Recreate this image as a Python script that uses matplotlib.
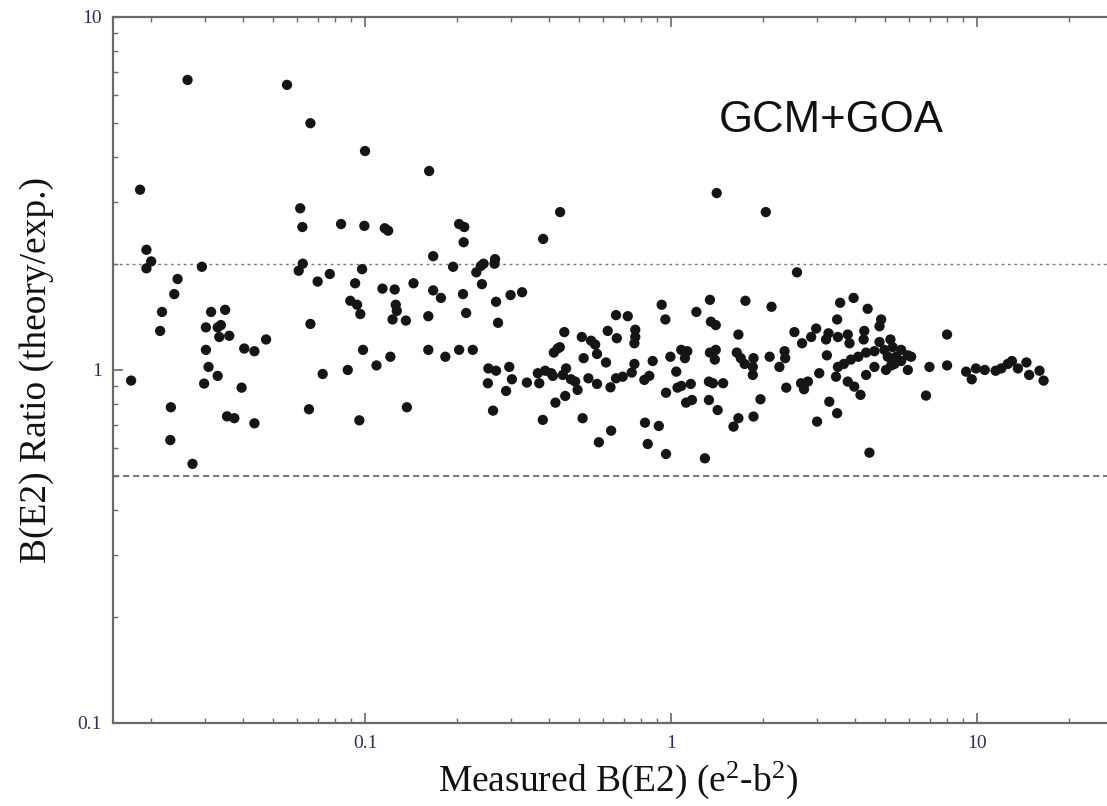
"""Log-log scatter: ratio of calculated to measured B(E2) vs measured B(E2)."""
import matplotlib
matplotlib.use('Agg')
import matplotlib.pyplot as plt
from matplotlib.ticker import FixedLocator, FuncFormatter, LogLocator, NullFormatter

# measured B(E2) (e^2 b^2)
b_e2 = [
    0.0263, 0.0556, 0.0663, 0.100, 0.0184, 0.0614, 0.0624, 0.0835, 0.0995, 0.0193,
    0.0200, 0.0193, 0.0293, 0.0607, 0.0626, 0.0700, 0.0767, 0.0978, 0.0244, 0.0238,
    0.0928, 0.0895, 0.0942, 0.0965, 0.0217, 0.0214, 0.0314, 0.0349, 0.0302, 0.0330,
    0.0338, 0.0334, 0.0360, 0.0302, 0.0403, 0.0435, 0.0475, 0.0663, 0.0985, 0.0172,
    0.0308, 0.0330, 0.0298, 0.0395, 0.0727, 0.0878, 0.0232, 0.0354, 0.0374, 0.0435,
    0.0656, 0.0958, 0.0231, 0.0273, 0.162, 0.203, 0.211, 0.210, 0.116, 0.119,
    0.382, 0.434, 1.41, 2.04, 0.167, 0.194, 0.231, 0.239, 0.244, 0.266,
    0.265, 0.114, 0.125, 0.144, 0.167, 0.177, 0.209, 0.241, 0.268, 0.299,
    0.326, 0.126, 0.127, 0.123, 0.136, 0.161, 0.214, 0.272, 0.109, 0.121,
    0.161, 0.183, 0.203, 0.225, 0.137, 0.253, 0.268, 0.296, 0.252, 0.302,
    0.289, 0.262, 0.338, 0.367, 0.371, 0.388, 0.406, 0.411, 0.448, 0.414,
    0.426, 0.433, 0.454, 0.443, 0.471, 0.486, 0.495, 0.451, 0.419, 0.381,
    0.514, 0.511, 0.548, 0.565, 0.518, 0.573, 0.613, 0.537, 0.573, 0.634,
    0.661, 0.621, 0.661, 0.665, 0.637, 0.581, 2.58, 0.722, 0.932, 0.958,
    1.34, 1.21, 1.35, 1.40, 1.75, 2.13, 0.764, 0.764, 0.759, 0.759,
    0.871, 0.744, 0.695, 0.818, 0.849, 0.995, 1.08, 1.13, 1.11, 1.04,
    0.963, 1.05, 1.08, 1.16, 1.12, 1.17, 1.33, 1.37, 1.48, 1.33,
    1.42, 1.34, 1.40, 1.39, 1.66, 1.64, 1.69, 1.74, 1.86, 1.85,
    1.85, 2.10, 2.26, 2.35, 2.36, 1.96, 1.86, 1.66, 1.60, 0.822,
    0.912, 0.839, 0.963, 1.29, 2.38, 2.66, 2.80, 2.72, 2.53, 2.68,
    2.98, 2.87, 3.27, 3.21, 3.51, 3.83, 3.78, 4.28, 4.26, 3.23,
    3.05, 3.51, 3.46, 3.67, 3.87, 4.09, 4.34, 3.78, 3.97, 4.16,
    4.34, 3.29, 3.49, 3.00, 3.57, 3.95, 4.39, 3.49, 4.45, 4.86,
    4.80, 4.80, 5.21, 5.30, 5.65, 5.94, 6.09, 5.44, 5.11, 4.98,
    4.62, 4.62, 5.04, 5.24, 5.65, 5.94, 5.37, 6.99, 7.98, 7.98,
    6.81, 9.21, 9.61, 9.92, 10.6, 11.5, 12.0, 12.6, 13.0, 13.6,
    14.5, 14.8, 16.0, 16.5,
]

# theory / experiment
ratio = [
    6.63, 6.42, 5.00, 4.17, 3.24, 2.87, 2.54, 2.59, 2.56, 2.19,
    2.03, 1.94, 1.96, 1.91, 2.00, 1.78, 1.87, 1.93, 1.81, 1.64,
    1.76, 1.57, 1.53, 1.44, 1.46, 1.29, 1.46, 1.48, 1.32, 1.32,
    1.34, 1.24, 1.25, 1.14, 1.15, 1.13, 1.22, 1.35, 1.14, 0.933,
    1.02, 0.962, 0.915, 0.891, 0.974, 1.00, 0.784, 0.739, 0.730, 0.706,
    0.774, 0.720, 0.633, 0.542, 3.66, 2.59, 2.54, 2.30, 2.52, 2.48,
    2.35, 2.80, 3.17, 2.80, 2.10, 1.96, 1.89, 1.97, 2.00, 2.06,
    2.00, 1.70, 1.69, 1.76, 1.68, 1.60, 1.64, 1.75, 1.56, 1.63,
    1.66, 1.53, 1.47, 1.39, 1.38, 1.42, 1.45, 1.36, 1.03, 1.09,
    1.14, 1.09, 1.14, 1.14, 0.784, 1.01, 0.995, 1.02, 0.917, 0.941,
    0.872, 0.767, 0.921, 0.979, 0.917, 0.995, 0.979, 0.962, 1.28, 1.12,
    1.15, 1.16, 1.01, 0.968, 0.941, 0.927, 0.878, 0.844, 0.808, 0.722,
    0.730, 1.24, 1.21, 1.18, 1.08, 1.11, 1.05, 0.947, 0.913, 0.893,
    0.947, 1.29, 1.43, 1.23, 0.673, 0.624, 1.89, 1.42, 1.53, 1.39,
    1.58, 1.46, 1.37, 1.34, 1.57, 1.51, 1.30, 1.24, 1.19, 1.04,
    1.06, 0.983, 0.957, 0.937, 0.962, 1.09, 1.14, 1.13, 1.08, 0.989,
    0.862, 0.891, 0.901, 0.913, 0.808, 0.822, 0.927, 0.917, 0.917, 0.822,
    0.770, 1.12, 1.14, 1.07, 1.26, 1.12, 1.08, 1.04, 1.08, 1.02,
    0.968, 1.09, 1.02, 1.13, 1.08, 0.826, 0.738, 0.730, 0.691, 0.709,
    0.694, 0.617, 0.578, 0.562, 0.891, 0.917, 0.927, 0.882, 1.28, 1.19,
    1.31, 1.24, 1.27, 1.22, 1.24, 1.19, 1.26, 1.29, 1.22, 1.10,
    0.979, 1.02, 0.957, 1.04, 1.07, 1.09, 1.12, 0.927, 0.897, 0.850,
    0.968, 0.813, 0.754, 0.714, 1.55, 1.60, 1.49, 1.39, 0.583, 1.39,
    1.33, 1.20, 1.22, 1.16, 1.14, 1.10, 1.09, 1.09, 1.09, 1.14,
    1.13, 1.02, 1.00, 1.03, 1.06, 1.00, 1.04, 1.02, 1.26, 1.03,
    0.846, 0.989, 0.941, 1.01, 1.00, 0.995, 1.01, 1.04, 1.06, 1.01,
    1.05, 0.968, 0.995, 0.933,
]

x_ticks = [0.1, 1, 10]
y_ticks = [0.1, 1, 10]
band = [2.0, 0.5]

plt.rcParams['font.family'] = ['Liberation Serif', 'DejaVu Serif']
plt.rcParams['mathtext.fontset'] = 'custom'
plt.rcParams['mathtext.rm'] = 'Liberation Serif'
plt.rcParams['mathtext.it'] = 'Liberation Serif:italic'

spine_col = '#6a6a6a'
tick_txt = '#2e2e58'

fig = plt.figure(figsize=(11.07, 8.06), dpi=100)
ax = fig.add_axes([0.102, 0.103, 0.9125, 0.876])

ax.scatter(b_e2, ratio, s=55, color='#151515', edgecolors='none', zorder=3)
ax.axhline(band[0], color='#7a7a7a', lw=1.0, ls=(0, (2.0, 2.6)), zorder=1)
ax.axhline(band[1], color='#7a7a7a', lw=1.5, ls=(0, (3.0, 1.8)), zorder=1)

ax.set_xscale('log')
ax.set_yscale('log')
ax.set_xlim(0.015, 30)
ax.set_ylim(0.1, 10)

fmt = FuncFormatter(lambda v, p: f'{v:g}')
ax.xaxis.set_major_locator(FixedLocator(x_ticks))
ax.yaxis.set_major_locator(FixedLocator(y_ticks))
ax.xaxis.set_major_formatter(fmt)
ax.yaxis.set_major_formatter(fmt)
for axis in (ax.xaxis, ax.yaxis):
    axis.set_minor_locator(LogLocator(base=10, subs=range(2, 10)))
    axis.set_minor_formatter(NullFormatter())

ax.tick_params(which='both', direction='in', top=True, right=True,
               color=spine_col, labelcolor=tick_txt, labelsize=14)
ax.tick_params(which='major', length=7, width=1.2)
ax.tick_params(which='minor', length=3.5, width=1.0)
ax.tick_params(axis='x', pad=9)
ax.tick_params(axis='y', pad=8)
for sp in ax.spines.values():
    sp.set_color(spine_col)
    sp.set_linewidth(1.6)

ax.set_xlabel('Measured B(E2) (e$^2$-b$^2$)', fontsize=27, color='#111111')
ax.set_ylabel('B(E2) Ratio (theory/exp.)', fontsize=27, color='#111111')
ax.xaxis.set_label_coords(0.5, -0.052)
ax.yaxis.set_label_coords(-0.058, 0.5)

ax.text(0.600, 0.837, 'GCM+GOA', transform=ax.transAxes, fontsize=31.5,
        family='Liberation Sans', color='#111111', va='baseline', ha='left')

fig.savefig('out.png', dpi=100)
plt.close(fig)
